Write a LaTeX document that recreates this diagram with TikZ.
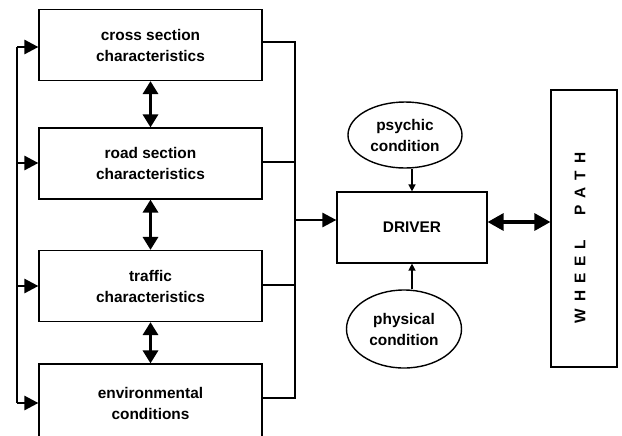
\documentclass[tikz,border=0pt]{standalone}
\usepackage{fontspec}
\setmainfont{Liberation Sans}
\usetikzlibrary{arrows.meta,shapes.geometric}

\tikzset{
    block/.style={draw, line width=0.6pt, inner sep=0pt, align=center,
        minimum width=111.5pt, minimum height=35.5pt,
        font=\bfseries\fontsize{7.7}{10.5}\selectfont},
    cond/.style={ellipse, draw, line width=0.7pt, inner sep=0pt, align=center,
        font=\bfseries\fontsize{7.7}{10.5}\selectfont},
    bus/.style={line width=1.3pt},
    feed/.style={bus, -{Triangle[length=7pt,width=7pt]}},
    link/.style={line width=1.6pt, {Triangle[length=6.5pt,width=7.5pt]}-{Triangle[length=6.5pt,width=7.5pt]}},
    influence/.style={line width=0.7pt, -{Triangle[length=3.5pt,width=3.5pt]}}
}

\begin{document}
\begin{tikzpicture}[x=0.5pt, y=-0.5pt]
        \path[use as bounding box, clip] (0,0) rectangle (622,435);
        \fill[white] (0,0) rectangle (622,435);

        % Nodes
        \node[block] (Cross) at (150.5, 45) {cross section\\characteristics};
        \node[block] (Road) at (150.5, 163.5) {road section\\characteristics};
        \node[block] (Traffic) at (150.5, 286) {traffic\\characteristics};
        \node[block, minimum height=39pt] (Env) at (150.5, 403) {environmental\\conditions};
        \node[block, minimum width=75pt] (Driver) at (412, 227.5) {DRIVER};
        \node[cond, minimum width=57pt, minimum height=33pt] (Psychic) at (405, 135) {psychic\\condition};
        \node[cond, minimum width=57.5pt, minimum height=39pt] (Physical) at (404, 329) {physical\\condition};
        \node[draw, line width=0.6pt, minimum width=33pt, minimum height=138.5pt] (Wheel) at (584, 228.5) {};
        \node[rotate=90, font=\bfseries\fontsize{7.7}{10.5}\selectfont] (WheelText) at (580, 238)
            {W\kern3.5pt H\kern3.5pt E\kern3.5pt E\kern3.5pt L\kern12pt P\kern3.5pt A\kern3.5pt T\kern3.5pt H};

        % Bus points
        \coordinate (L1) at (17, 47);
        \coordinate (L2) at (17, 163);
        \coordinate (L3) at (17, 286);
        \coordinate (L4) at (17, 403);
        \coordinate (R1) at (295, 42);
        \coordinate (R2) at (295, 162);
        \coordinate (R3) at (295, 285);
        \coordinate (R4) at (295, 398);
        \coordinate (RD) at (295, 220);
        \coordinate (DW) at (519, 222);

        % Arrows
        \draw[bus] (L1) -- (L4);
        \draw[feed] (L1) -- (L1 -| Cross.west);
        \draw[feed] (L2) -- (L2 -| Road.west);
        \draw[feed] (L3) -- (L3 -| Traffic.west);
        \draw[feed] (L4) -- (L4 -| Env.west);

        \draw[bus] (R1 -| Cross.east) -- (R1) -- (R4) -- (R4 -| Env.east);
        \draw[bus] (R2 -| Road.east) -- (R2);
        \draw[bus] (R3 -| Traffic.east) -- (R3);
        \draw[feed] (RD) -- (RD -| Driver.west);

        \draw[link] (Cross.south) -- (Road.north);
        \draw[link] (Road.south) -- (Traffic.north);
        \draw[link] (Traffic.south) -- (Env.north);
        \draw[link, {Triangle[length=8pt,width=8.5pt]}-{Triangle[length=8pt,width=8.5pt]}] (DW -| Driver.east) -- (DW -| Wheel.west);

        \draw[influence] (Psychic.south -| Driver.north) -- (Driver.north);
        \draw[influence] (Physical.north -| Driver.south) -- (Driver.south);
    \end{tikzpicture}
\end{document}
